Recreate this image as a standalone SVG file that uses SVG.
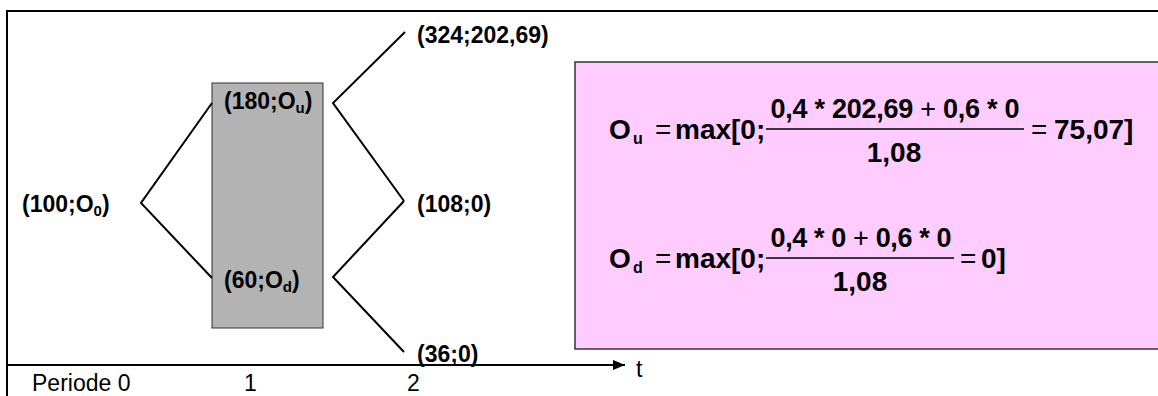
<svg xmlns="http://www.w3.org/2000/svg" width="1158" height="396" viewBox="0 0 1158 396">
<defs>
<style>
.lbl{font-family:"Liberation Sans",Arial,sans-serif;font-weight:bold;font-size:23px;fill:#000}
.sub{font-size:15px}
.reg{font-family:"Liberation Sans",Arial,sans-serif;font-size:23px;fill:#000}
.eq{font-family:"Liberation Sans",Arial,sans-serif;font-weight:bold;font-size:28px;fill:#000}
.num{font-family:"Liberation Sans",Arial,sans-serif;font-weight:bold;font-size:27px;fill:#000}
.op{font-weight:normal}
.esub{font-size:16px}
.ln{stroke:#000;stroke-width:2;fill:none}
.fl{stroke:#000;stroke-width:1.3}
</style>
<marker id="arr" markerWidth="12" markerHeight="10" refX="12" refY="5" orient="auto" markerUnits="userSpaceOnUse">
<path d="M0,0 L12,5 L0,10 Z" fill="#000"/>
</marker>
</defs>
<rect width="1158" height="396" fill="#fff"/>
<g id="frame">
<line x1="6" y1="11" x2="1158" y2="11" class="ln"/>
<line x1="7" y1="10" x2="7" y2="396" class="ln"/>
</g>
<g id="formula-box">
<rect x="575" y="62" width="600" height="287" fill="#ffccff" stroke="#333" stroke-width="1.5"/>
<text class="eq" x="609" y="139">O</text>
<text class="eq esub" x="633" y="144">u</text>
<text class="eq op" x="655" y="139" font-size="24">=</text>
<text class="eq" x="675" y="139">max[0;</text>
<text class="num" x="895" y="118" text-anchor="middle" textLength="249" lengthAdjust="spacing">0,4 * 202,69 <tspan class="op">+</tspan> 0,6 * 0</text>
<line x1="766" y1="129" x2="1024" y2="129" class="fl"/>
<text class="eq" x="894" y="162" text-anchor="middle">1,08</text>
<text class="eq op" x="1031" y="139" font-size="24">=</text>
<text class="eq" x="1054" y="139">75,07]</text>
<text class="eq" x="609" y="268">O</text>
<text class="eq esub" x="633" y="273">d</text>
<text class="eq op" x="655" y="268" font-size="24">=</text>
<text class="eq" x="675" y="268">max[0;</text>
<text class="num" x="861" y="247" text-anchor="middle" textLength="181" lengthAdjust="spacing">0,4 * 0 <tspan class="op">+</tspan> 0,6 * 0</text>
<line x1="766" y1="258" x2="954" y2="258" class="fl"/>
<text class="eq" x="860" y="291" text-anchor="middle">1,08</text>
<text class="eq op" x="960" y="268" font-size="24">=</text>
<text class="eq" x="981" y="268">0]</text>
</g>
<g id="period1-box">
<rect x="212" y="83" width="111" height="245" fill="#b3b3b3" stroke="#333" stroke-width="1"/>
</g>
<g id="connectors">
<polyline points="212,103 141,203 212,278" class="ln"/>
<polyline points="405,32 333,103 404,201" class="ln"/>
<polyline points="404,201 333,277 404,352" class="ln"/>
<line x1="7" y1="365" x2="625" y2="365" class="ln" marker-end="url(#arr)"/>
</g>
<g id="n0"><text class="lbl" x="22" y="212">(100;O<tspan class="sub" dy="4">0</tspan><tspan dy="-4">)</tspan></text></g>
<g id="nu"><text class="lbl" x="224" y="109">(180;O<tspan class="sub" dy="4">u</tspan><tspan dy="-4">)</tspan></text></g>
<g id="nd"><text class="lbl" x="224" y="288">(60;O<tspan class="sub" dy="4">d</tspan><tspan dy="-4">)</tspan></text></g>
<g id="nuu"><text class="lbl" x="417" y="43">(324;202,69)</text></g>
<g id="nud"><text class="lbl" x="417" y="212">(108;0)</text></g>
<g id="ndd"><text class="lbl" x="417" y="362">(36;0)</text></g>
<g id="axis-labels">
<text class="reg" x="32" y="391">Periode 0</text>
<text class="reg" x="244" y="391">1</text>
<text class="reg" x="407" y="391">2</text>
<text class="reg" x="636" y="377">t</text>
</g>
</svg>
